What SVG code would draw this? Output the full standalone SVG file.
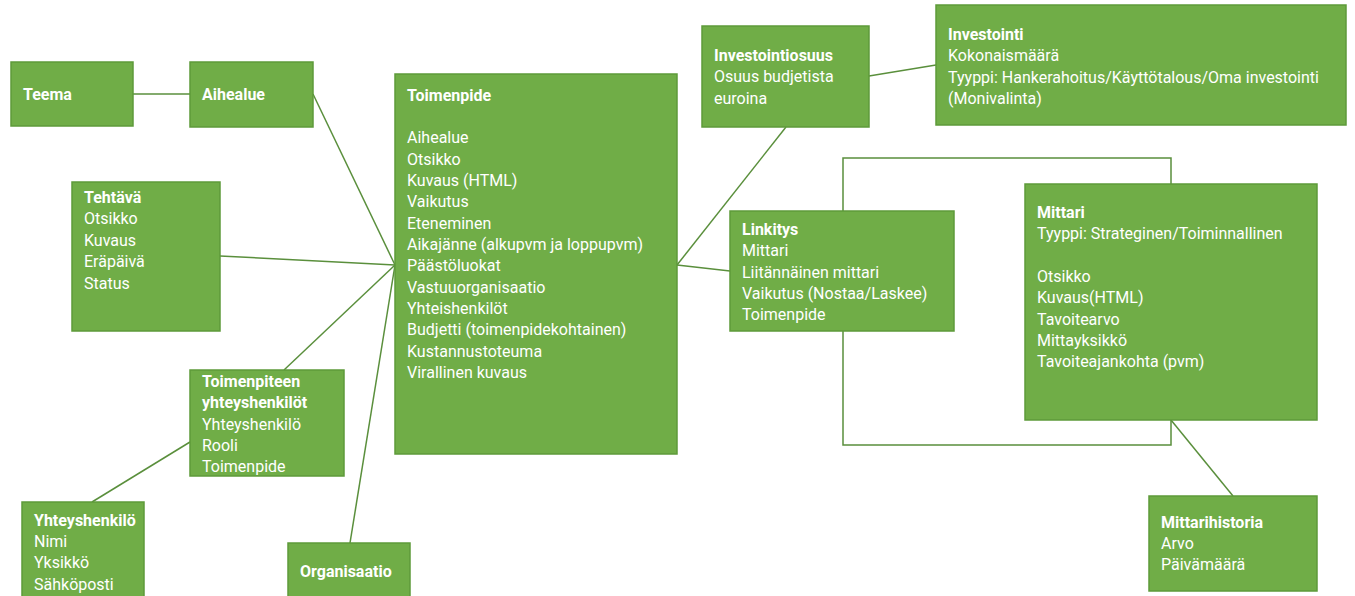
<svg xmlns="http://www.w3.org/2000/svg" width="1355" height="596" viewBox="0 0 1355 596">
<style>
.box{fill:#70ad47;stroke:#5e9a3a;stroke-width:1.5}
.t{font-family:Roboto,"Liberation Sans",sans-serif;font-size:16px;fill:#ffffff}
.b{font-weight:bold}
.c{fill:none;stroke:#5a8f3c;stroke-width:1.5}
</style>
<rect width="1355" height="596" fill="#ffffff"/>
<g id="connectors">
<line class="c" x1="133" y1="94" x2="190" y2="94"/>
<line class="c" x1="313" y1="94" x2="395" y2="265"/>
<line class="c" x1="220" y1="256" x2="395" y2="265"/>
<line class="c" x1="284" y1="370" x2="395" y2="265"/>
<line class="c" x1="350" y1="543" x2="395" y2="265"/>
<line class="c" x1="92" y1="502" x2="190" y2="442"/>
<line class="c" x1="677" y1="265" x2="730" y2="271"/>
<line class="c" x1="786" y1="127" x2="677" y2="265"/>
<line class="c" x1="869" y1="76" x2="936" y2="65"/>
<polyline class="c" points="843,211 843,158 1171,158 1171,184"/>
<polyline class="c" points="843,331 843,445 1171,445 1171,420"/>
<line class="c" x1="1171" y1="420" x2="1233" y2="496"/>
</g>
<g id="teema">
<rect class="box" x="11" y="62" width="122" height="64"/>
<text class="t b" x="23" y="100">Teema</text>
</g>
<g id="aihealue">
<rect class="box" x="190" y="62" width="123" height="65"/>
<text class="t b" x="202" y="100">Aihealue</text>
</g>
<g id="tehtava">
<rect class="box" x="72" y="182" width="148" height="149"/>
<text class="t" x="84" y="203"><tspan class="b">Tehtävä</tspan><tspan x="84" dy="21.4">Otsikko</tspan><tspan x="84" dy="21.4">Kuvaus</tspan><tspan x="84" dy="21.4">Eräpäivä</tspan><tspan x="84" dy="21.4">Status</tspan></text>
</g>
<g id="toimenpide">
<rect class="box" x="395" y="74" width="282" height="380"/>
<text class="t" x="407" y="101"><tspan class="b">Toimenpide</tspan><tspan x="407" dy="42.2">Aihealue</tspan><tspan x="407" dy="21.35">Otsikko</tspan><tspan x="407" dy="21.35">Kuvaus (HTML)</tspan><tspan x="407" dy="21.35">Vaikutus</tspan><tspan x="407" dy="21.35">Eteneminen</tspan><tspan x="407" dy="21.35">Aikajänne (alkupvm ja loppupvm)</tspan><tspan x="407" dy="21.35">Päästöluokat</tspan><tspan x="407" dy="21.35">Vastuuorganisaatio</tspan><tspan x="407" dy="21.35">Yhteishenkilöt</tspan><tspan x="407" dy="21.35">Budjetti (toimenpidekohtainen)</tspan><tspan x="407" dy="21.35">Kustannustoteuma</tspan><tspan x="407" dy="21.35">Virallinen kuvaus</tspan></text>
</g>
<g id="toimenpiteen-yhteyshenkilot">
<rect class="box" x="190" y="370" width="154" height="106"/>
<text class="t" x="202" y="387"><tspan class="b">Toimenpiteen</tspan><tspan class="b" x="202" dy="21.3">yhteyshenkilöt</tspan><tspan x="202" dy="21.3">Yhteyshenkilö</tspan><tspan x="202" dy="21.3">Rooli</tspan><tspan x="202" dy="21.3">Toimenpide</tspan></text>
</g>
<g id="yhteyshenkilo">
<rect class="box" x="22" y="502" width="122" height="100"/>
<text class="t" x="34" y="526"><tspan class="b">Yhteyshenkilö</tspan><tspan x="34" dy="21.2">Nimi</tspan><tspan x="34" dy="21.2">Yksikkö</tspan><tspan x="34" dy="21.2">Sähköposti</tspan></text>
</g>
<g id="organisaatio">
<rect class="box" x="288" y="543" width="122" height="60"/>
<text class="t b" x="300" y="577">Organisaatio</text>
</g>
<g id="investointiosuus">
<rect class="box" x="702" y="26" width="167" height="101"/>
<text class="t" x="714" y="61"><tspan class="b">Investointiosuus</tspan><tspan x="714" dy="21.4">Osuus budjetista</tspan><tspan x="714" dy="21.4">euroina</tspan></text>
</g>
<g id="investointi">
<rect class="box" x="936" y="5" width="410" height="120"/>
<text class="t" x="948" y="40"><tspan class="b">Investointi</tspan><tspan x="948" dy="21.4">Kokonaismäärä</tspan><tspan x="948" dy="21.4">Tyyppi: Hankerahoitus/Käyttötalous/Oma investointi</tspan><tspan x="948" dy="21.4">(Monivalinta)</tspan></text>
</g>
<g id="linkitys">
<rect class="box" x="730" y="211" width="224" height="120"/>
<text class="t" x="742" y="235"><tspan class="b">Linkitys</tspan><tspan x="742" dy="21.3">Mittari</tspan><tspan x="742" dy="21.3">Liitännäinen mittari</tspan><tspan x="742" dy="21.3">Vaikutus (Nostaa/Laskee)</tspan><tspan x="742" dy="21.3">Toimenpide</tspan></text>
</g>
<g id="mittari">
<rect class="box" x="1025" y="184" width="292" height="236"/>
<text class="t" x="1037" y="218"><tspan class="b">Mittari</tspan><tspan x="1037" dy="21.3">Tyyppi: Strateginen/Toiminnallinen</tspan><tspan x="1037" dy="42.6">Otsikko</tspan><tspan x="1037" dy="21.3">Kuvaus(HTML)</tspan><tspan x="1037" dy="21.3">Tavoitearvo</tspan><tspan x="1037" dy="21.3">Mittayksikkö</tspan><tspan x="1037" dy="21.3">Tavoiteajankohta (pvm)</tspan></text>
</g>
<g id="mittarihistoria">
<rect class="box" x="1149" y="496" width="168" height="95"/>
<text class="t" x="1161" y="528"><tspan class="b">Mittarihistoria</tspan><tspan x="1161" dy="21.2">Arvo</tspan><tspan x="1161" dy="21.2">Päivämäärä</tspan></text>
</g>
</svg>
